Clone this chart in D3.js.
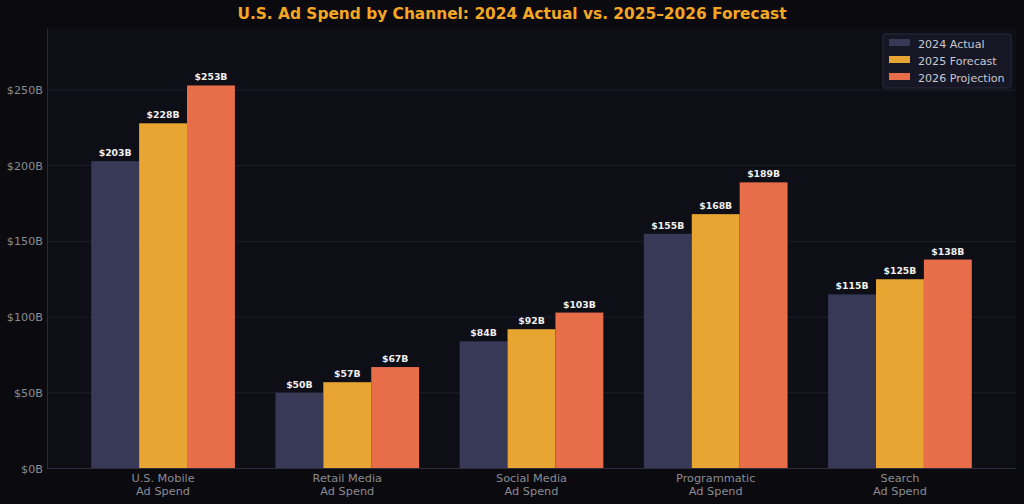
<!DOCTYPE html>
<html><head><meta charset="utf-8">
<script src="https://cdn.jsdelivr.net/npm/d3@7"></script>
<style>body{margin:0;background:#0b0b0f;}svg{display:block;}</style>
</head><body><svg id="c" width="1024" height="504"></svg>
<script>
const categories = ["U.S. Mobile\nAd Spend","Retail Media\nAd Spend","Social Media\nAd Spend","Programmatic\nAd Spend","Search\nAd Spend"];
const seriesNames = ["2024 Actual","2025 Forecast","2026 Projection"];
const actual2024 = [203,50,84,155,115];
const forecast2025 = [228,57,92,168,125];
const projection2026 = [253,67,103,189,138];
const yTicks = [0,50,100,150,200,250];
const colors = ["#383857","#e8a532","#e86e4a"];
const series = [actual2024, forecast2025, projection2026];

const svg = d3.select("#c");
const W=1024,H=504;
const m={l:47,r:8,t:28,b:35.5};
svg.append("rect").attr("width",W).attr("height",H).attr("fill","#0b0b0f");
svg.append("rect").attr("x",m.l).attr("y",m.t).attr("width",W-m.l-m.r).attr("height",H-m.t-m.b).attr("fill","#0e0e17");

const x = d3.scaleLinear().domain([-0.63,4.63]).range([m.l,W-m.r]);
const y = d3.scaleLinear().domain([0,253*1.15]).range([H-m.b,m.t]);
const bw = 0.26;

// grid
svg.append("g").selectAll("line").data(yTicks.slice(1)).join("line")
  .attr("x1",m.l).attr("x2",W-m.r).attr("y1",d=>y(d)).attr("y2",d=>y(d))
  .attr("stroke","#1f1f2c").attr("stroke-width",1);

// bars
series.forEach((vals,si)=>{
  const g=svg.append("g");
  g.selectAll("rect").data(vals).join("rect")
    .attr("x",(d,i)=>x(i+(si-1)*bw-bw/2))
    .attr("width",(d,i)=>x(i+(si-1)*bw+bw/2)-x(i+(si-1)*bw-bw/2))
    .attr("y",d=>y(d)).attr("height",d=>y(0)-y(d))
    .attr("fill",colors[si]);
  g.selectAll("text").data(vals).join("text")
    .attr("x",(d,i)=>x(i+(si-1)*bw))
    .attr("y",d=>y(d)-5)
    .attr("text-anchor","middle")
    .attr("font-family","DejaVu Sans").attr("font-weight","bold").attr("font-size",9.3)
    .attr("fill","#f0f0f0").text(d=>"$"+d+"B");
});

// axes
const ya = d3.axisLeft(y).tickValues(yTicks).tickFormat(d=>"$"+d+"B").tickSize(0).tickPadding(4);
const yg = svg.append("g").attr("transform",`translate(${m.l},0)`).call(ya);
yg.select(".domain").attr("stroke","#2a2a3a");
yg.selectAll("text").attr("font-family","DejaVu Sans").attr("font-size",11.2).attr("fill","#8a8a92");

svg.append("line").attr("x1",m.l).attr("x2",W-m.r).attr("y1",y(0)).attr("y2",y(0)).attr("stroke","#2e2e3e");

const xg = svg.append("g");
categories.forEach((c,i)=>{
  const t = xg.append("text").attr("x",x(i)).attr("y",y(0)+13)
    .attr("text-anchor","middle").attr("font-family","DejaVu Sans").attr("font-size",11.3).attr("fill","#8a8a92");
  c.split("\n").forEach((ln,k)=>t.append("tspan").attr("x",x(i)).attr("dy",k?13.5:0).text(ln));
});

// title
svg.append("text").attr("x",512).attr("y",19).attr("text-anchor","middle")
  .attr("font-family","DejaVu Sans").attr("font-weight","bold").attr("font-size",15.4)
  .attr("fill","#f5a623").text("U.S. Ad Spend by Channel: 2024 Actual vs. 2025\u20132026 Forecast");

// legend
const lg = svg.append("g").attr("transform","translate(883,34)");
lg.append("rect").attr("width",128).attr("height",54).attr("rx",2).attr("fill","#161625").attr("stroke","#2a2a3c");
seriesNames.forEach((n,i)=>{
  lg.append("rect").attr("x",6).attr("y",5+i*17).attr("width",21).attr("height",7).attr("fill",colors[i]);
  lg.append("text").attr("x",35).attr("y",13.5+i*17).attr("font-family","DejaVu Sans").attr("font-size",11.1)
    .attr("fill","#c8c8d0").text(n);
});
</script></body></html>
